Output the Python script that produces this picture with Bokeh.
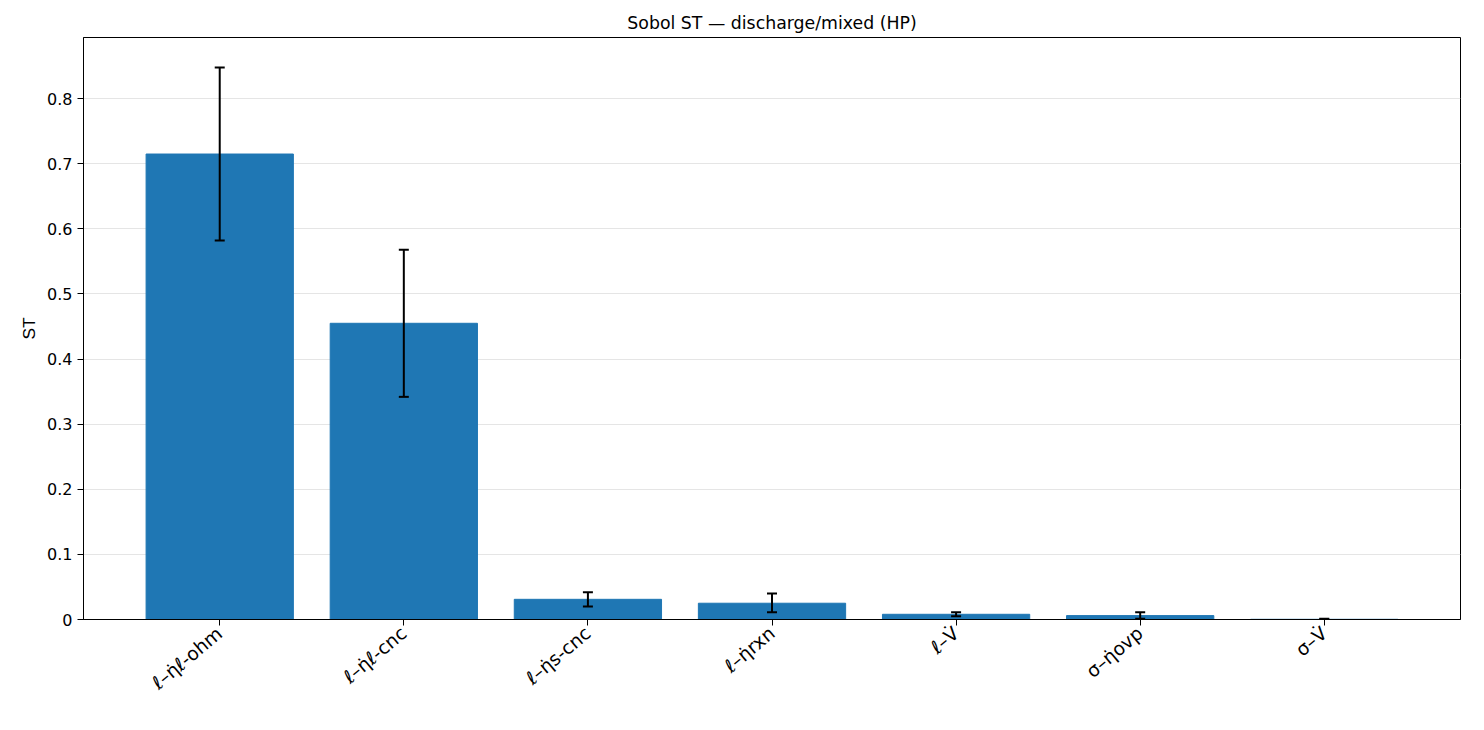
from bokeh.plotting import figure
from bokeh.models import ColumnDataSource, Whisker, Range1d
from bokeh.embed import file_html
from bokeh.resources import INLINE

# Sobol total-order indices with confidence bounds
params = ["ℓ–η̇ℓ-ohm", "ℓ–η̇ℓ-cnc", "ℓ–η̇s-cnc", "ℓ–η̇rxn", "ℓ–V̇", "σ–η̇ovp", "σ–V̇"]
st = [0.715, 0.455, 0.031, 0.025, 0.008, 0.006, 0.0003]
st_lo = [0.582, 0.342, 0.020, 0.011, 0.005, 0.001, 0.0]
st_hi = [0.848, 0.568, 0.042, 0.040, 0.011, 0.011, 0.001]

src = ColumnDataSource(data=dict(x=params, top=st, lower=st_lo, upper=st_hi))

p = figure(x_range=params, width=1468, height=714, output_backend="svg",
           toolbar_location=None, title="Sobol ST — discharge/mixed (HP)",
           min_border_left=83, min_border_right=8, min_border_top=37,
           min_border_bottom=95)
p.y_range = Range1d(0, 0.894)

p.vbar(x="x", top="top", width=0.8, color="#1f77b4", source=src)
w = Whisker(base="x", lower="lower", upper="upper", source=src,
            line_color="black", line_width=2, level="overlay")
w.upper_head.size = 10
w.lower_head.size = 10
w.upper_head.line_width = 2
w.lower_head.line_width = 2
p.add_layout(w)

p.title.align = "center"
p.title.text_font = "DejaVu Sans"
p.title.text_font_size = "13pt"
p.title.text_font_style = "normal"
p.title.text_color = "black"
p.yaxis.axis_label = "ST"
p.yaxis.axis_label_text_font_style = "normal"
p.yaxis.axis_label_text_font_size = "13pt"
p.yaxis.axis_label_text_color = "black"
p.yaxis.ticker = [0, 0.1, 0.2, 0.3, 0.4, 0.5, 0.6, 0.7, 0.8]
p.axis.major_label_text_font = "DejaVu Sans"
p.axis.major_label_text_font_size = "12pt"
p.xaxis.major_label_text_font_size = "14pt"
p.axis.major_label_text_color = "black"
p.axis.minor_tick_line_color = None
p.axis.major_tick_out = 6
p.axis.major_tick_in = 0
p.xaxis.major_label_orientation = 0.7
p.xgrid.grid_line_color = None
p.ygrid.grid_line_color = "#e5e5e5"
p.outline_line_color = "black"
p.x_range.range_padding = 0.48 / 7
p.x_range.factor_padding = 0.0

open("out.html", "w").write(file_html(p, INLINE))
